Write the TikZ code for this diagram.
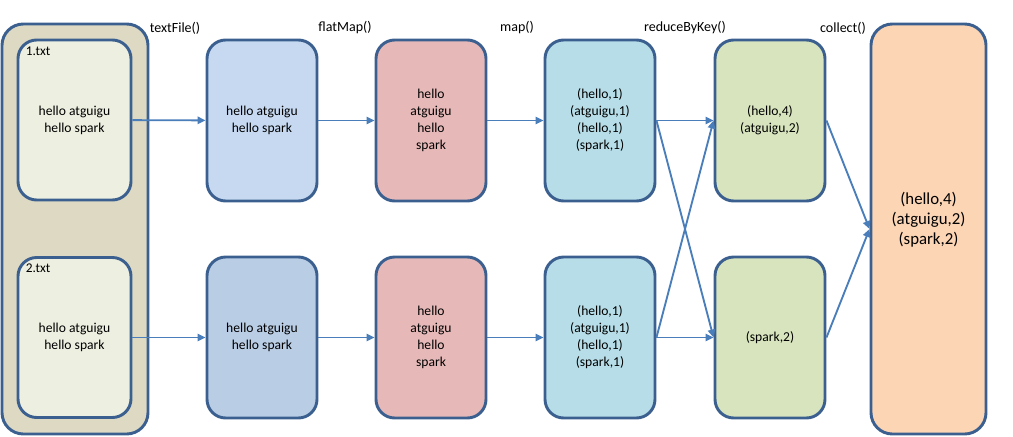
\documentclass[tikz,border=0pt]{standalone}
\usepackage{fontspec}
\setmainfont{Carlito}
\usepackage{tikz}
\usetikzlibrary{arrows.meta}

\definecolor{rimblue}{HTML}{3B6090}
\definecolor{flowblue}{HTML}{4A7EBB}
\definecolor{srcfill}{HTML}{DDD9C3}
\definecolor{filefill}{HTML}{EDEFE0}
\definecolor{linesfill}{HTML}{C6D9F1}
\definecolor{linesfilltwo}{HTML}{B9CDE5}
\definecolor{wordfill}{HTML}{E6B9B8}
\definecolor{pairfill}{HTML}{B7DEE8}
\definecolor{sumfill}{HTML}{D7E4BD}
\definecolor{resultfill}{HTML}{FCD5B5}

\begin{document}
\begin{tikzpicture}[x=0.75pt, y=-0.75pt,
    box/.style={draw=rimblue, line width=2.2pt, rounded corners=14pt, align=center,
        minimum width=82.5pt, minimum height=120.75pt, inner sep=0pt,
        font=\fontsize{10.2}{12.7}\selectfont},
    flow/.style={draw=flowblue, line width=1.4pt, -{Triangle[length=6pt,width=5.5pt]}},
    opname/.style={font=\fontsize{10.5}{12}\selectfont, inner sep=0pt}]
    \useasboundingbox (0,0) rectangle (1013,436);

    % Source holding both files
    \node[box, fill=srcfill, minimum width=109.5pt, minimum height=307.5pt, rounded corners=16pt] (src) at (75,229) {};
    \node[box, fill=filefill, minimum width=84.75pt, minimum height=120pt] (f1) at (74.5,120) {hello atguigu\\hello spark};
    \node[box, fill=filefill, minimum width=84.75pt, minimum height=120pt] (f2) at (74.5,337.5) {hello atguigu\\hello spark};
    \node[anchor=north west, inner sep=0pt, font=\fontsize{10}{11}\selectfont] (f1name) at ([shift={(9,8)}]f1.north west) {1.txt};
    \node[anchor=north west, inner sep=0pt, font=\fontsize{10}{11}\selectfont] (f2name) at ([shift={(9,8)}]f2.north west) {2.txt};

    % Lines after textFile
    \node[box, fill=linesfill] (fm1) at (262,120.5) {hello atguigu\\hello spark};
    \node[box, fill=linesfilltwo] (fm2) at (262,337.5) {hello atguigu\\hello spark};

    % Words after flatMap
    \node[box, fill=wordfill] (sp1) at (431,120.5) {hello\\atguigu\\hello\\spark};
    \node[box, fill=wordfill] (sp2) at (431,337.5) {hello\\atguigu\\hello\\spark};

    % Pairs after map
    \node[box, fill=pairfill] (mp1) at (600,120.5) {(hello,1)\\(atguigu,1)\\(hello,1)\\(spark,1)};
    \node[box, fill=pairfill] (mp2) at (600,337.5) {(hello,1)\\(atguigu,1)\\(hello,1)\\(spark,1)};

    % Sums after reduceByKey
    \node[box, fill=sumfill] (rk1) at (770,120.5) {(hello,4)\\(atguigu,2)};
    \node[box, fill=sumfill] (rk2) at (770,337.5) {(spark,2)};

    % Collected result
    \node[box, fill=resultfill, minimum width=86.25pt, minimum height=307.5pt, rounded corners=16pt] (col) at (928.5,229) {};
    \node[align=center, font=\fontsize{12.6}{15}\selectfont] (colitems) at (928.5,220) {(hello,4)\\(atguigu,2)\\(spark,2)};

    % Operator names
    \node[opname] (optext) at (175,28) {textFile()};
    \node[opname] (opflat) at (345,28) {flatMap()};
    \node[opname] (opmap) at (517,28) {map()};
    \node[opname] (opreduce) at (685,28) {reduceByKey()};
    \node[opname] (opcollect) at (843,28) {collect()};

    % Arrows
    \draw[flow] (f1) -- (fm1);
    \draw[flow] (f2) -- (fm2);
    \draw[flow] (fm1) -- (sp1);
    \draw[flow] (fm2) -- (sp2);
    \draw[flow] (sp1) -- (mp1);
    \draw[flow] (sp2) -- (mp2);
    \draw[flow] (mp1) -- (rk1);
    \draw[flow] (mp2) -- (rk2);
    \draw[flow] (mp1.east) -- (rk2.west);
    \draw[flow] (mp2.east) -- (rk1.west);
    \draw[flow] (rk1.east) -- (col.west);
    \draw[flow] (rk2.east) -- (col.west);
\end{tikzpicture}
\end{document}
